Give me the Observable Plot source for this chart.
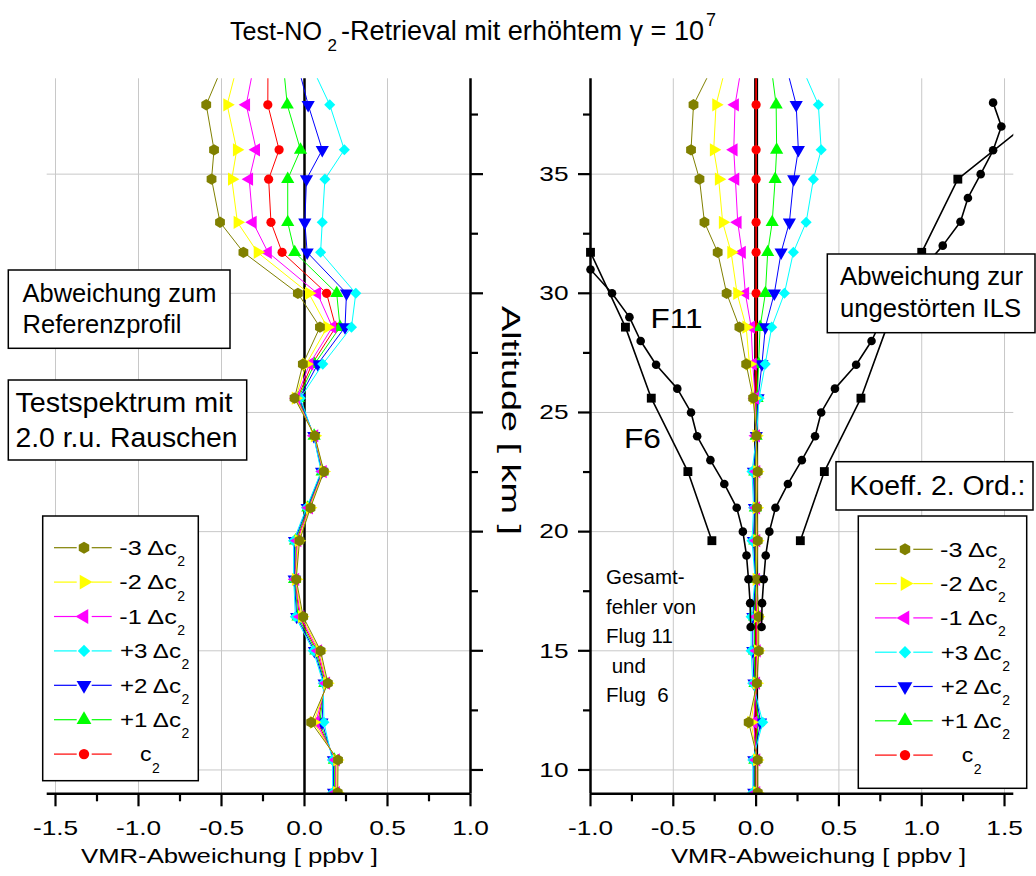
<!DOCTYPE html>
<html>
<head>
<meta charset="utf-8">
<script src="https://cdn.jsdelivr.net/npm/d3@7"></script>
<script src="https://cdn.jsdelivr.net/npm/@observablehq/plot@0.6"></script>
<style>
  html, body { margin: 0; padding: 0; background: #fff; }
  #chart { position: relative; width: 1036px; height: 876px; overflow: hidden; background: #fff; }
  #chart > svg { position: absolute; left: 0; top: 0; }
</style>
</head>
<body>
<div id="chart"></div>
<script>
const FONT = '"Liberation Sans", Arial, Helvetica, sans-serif';

// ---------------- data ----------------
// retrieval altitude grid [km] (bottom -> top; last level lies above the frame)
const altitudes = [9.05, 10.42, 12.0, 13.64, 15.0, 16.43, 18.0, 19.62, 21.0, 22.52, 24.02, 25.6, 27.03, 28.58, 30.0, 31.72, 32.98, 34.79, 36.02, 37.91, 40.0];

// left panel: Abweichung zum Referenzprofil [ppbv]
const leftM3 = [0.200, 0.202, 0.040, 0.141, 0.097, -0.008, -0.050, -0.030, 0.036, 0.117, 0.062, -0.060, -0.010, 0.093, -0.040, -0.368, -0.509, -0.560, -0.545, -0.592, -0.465];
const leftM2 = [0.195, 0.196, 0.055, 0.136, 0.090, -0.016, -0.053, -0.036, 0.032, 0.114, 0.061, -0.054, 0.010, 0.137, 0.026, -0.283, -0.404, -0.438, -0.408, -0.466, -0.389];
const leftM1 = [0.190, 0.190, 0.068, 0.131, 0.083, -0.024, -0.055, -0.042, 0.028, 0.111, 0.060, -0.048, 0.030, 0.168, 0.077, -0.220, -0.311, -0.333, -0.291, -0.351, -0.293];
const leftC2 = [0.185, 0.185, 0.080, 0.127, 0.075, -0.031, -0.057, -0.048, 0.024, 0.108, 0.059, -0.042, 0.045, 0.188, 0.133, -0.135, -0.202, -0.216, -0.153, -0.221, -0.220];
const leftP1 = [0.180, 0.180, 0.092, 0.122, 0.068, -0.039, -0.060, -0.054, 0.020, 0.106, 0.058, -0.037, 0.060, 0.214, 0.194, -0.059, -0.101, -0.101, -0.024, -0.104, -0.133];
const leftP2 = [0.175, 0.174, 0.105, 0.118, 0.060, -0.047, -0.062, -0.060, 0.016, 0.103, 0.056, -0.031, 0.080, 0.244, 0.253, 0.016, 0.002, 0.012, 0.107, 0.022, -0.056];
const leftP3 = [0.170, 0.168, 0.117, 0.113, 0.053, -0.055, -0.065, -0.066, 0.012, 0.100, 0.055, -0.025, 0.110, 0.283, 0.309, 0.097, 0.107, 0.123, 0.240, 0.152, 0.011];

// right panel: Abweichung zur ungestörten ILS [ppbv]
const rightM3 = [0.010, 0.010, -0.045, 0.005, 0.016, 0.016, 0.004, 0.010, 0.005, 0.010, 0.002, -0.018, -0.060, -0.101, -0.178, -0.232, -0.312, -0.342, -0.393, -0.378, -0.227];
const rightM2 = [0.005, 0.005, -0.030, 0.002, 0.010, 0.010, 0.002, 0.005, 0.003, 0.005, 0.001, -0.012, -0.040, -0.060, -0.115, -0.151, -0.202, -0.226, -0.256, -0.242, -0.165];
const rightM1 = [0.002, 0.002, -0.015, 0.001, 0.005, 0.005, 0.001, 0.002, 0.001, 0.002, 0.000, -0.006, -0.020, -0.030, -0.065, -0.085, -0.111, -0.125, -0.135, -0.127, -0.077];
const rightC2 = [0, 0, 0, 0, 0, 0, 0, 0, 0, 0, 0, 0, 0, 0, 0, 0, 0, 0, 0, 0, 0];
const rightP1 = [-0.008, -0.008, 0.013, -0.007, -0.010, -0.010, -0.002, -0.008, -0.005, -0.008, 0.000, 0.006, 0.015, 0.024, 0.056, 0.070, 0.097, 0.115, 0.124, 0.121, 0.082];
const rightP2 = [-0.014, -0.014, 0.027, -0.013, -0.020, -0.020, -0.004, -0.016, -0.010, -0.016, 0.001, 0.012, 0.035, 0.056, 0.110, 0.151, 0.201, 0.227, 0.255, 0.242, 0.164];
const rightP3 = [-0.020, -0.020, 0.040, -0.020, -0.030, -0.030, -0.006, -0.025, -0.015, -0.025, 0.003, 0.018, 0.055, 0.094, 0.171, 0.225, 0.302, 0.346, 0.393, 0.376, 0.244];

// total error (Gesamtfehler) of flight 11 and flight 6 [ppbv], drawn as +/- envelope
const f11Alt = [16, 17, 18, 19, 20, 21, 22, 23, 24, 25, 26, 27, 28, 29, 30, 31, 32, 33, 34, 35, 36, 37, 38];
const f11Err = [0.033, 0.036, 0.046, 0.058, 0.080, 0.117, 0.192, 0.276, 0.356, 0.393, 0.476, 0.604, 0.697, 0.765, 0.870, 1.000, 1.127, 1.234, 1.279, 1.356, 1.431, 1.481, 1.431];
const f6Alt = [19.62, 22.52, 25.6, 28.58, 31.72, 34.79, 37.91];
const f6Err = [0.267, 0.412, 0.633, 0.789, 1.000, 1.218, 1.780];

// labels / ticks
const legendLabels = ["-3 \u0394c", "-2 \u0394c", "-1 \u0394c", "+3 \u0394c", "+2 \u0394c", "+1 \u0394c", "c"];
const leftXTicks = [-1.5, -1.0, -0.5, 0.0, 0.5, 1.0];
const leftXMinor = [-1.25, -0.75, -0.25, 0.25, 0.75];
const leftXGrid = [-1.5, -1.0, -0.5, 0.5];
const rightXTicks = [-1.0, -0.5, 0.0, 0.5, 1.0, 1.5];
const rightXMinor = [-0.75, -0.25, 0.25, 0.75, 1.25];
const rightXGrid = [-0.5, 0.5, 1.0, 1.5];
const yTicks = [10, 15, 20, 25, 30, 35];
const yMinor = [12.5, 17.5, 22.5, 27.5, 32.5, 37.5];
const xDomainLeft = [-1.55, 1.0];
const xDomainRight = [-1.0, 1.556];
const yDomain = [9, 39];

// ---------------- styles ----------------
const seriesColors = ["#808000", "#ffff00", "#ff00ff", "#00ffff", "#0000ff", "#00ff00", "#ff0000"];
const seriesSymbols = ["hexagon", "triangle", "triangle", "diamond2", "triangle", "triangle", "circle"];
const seriesRotate = [0, 90, -90, 0, 180, 0, 0];
const seriesR = [4.9, 4.9, 4.9, 5.0, 4.9, 4.9, 4.6];
const drawOrder = [6, 5, 4, 3, 2, 1, 0];
const GRID = "#c8c8c8";
const TICK_FONT = 21;
const TICK_STRETCH = 1.25;

function seriesRows(series) {
  const rows = [];
  series.forEach((vals, si) => vals.forEach((v, i) => rows.push({s: si, x: v, y: altitudes[i]})));
  return rows;
}

function panel(o) {
  const rows = seriesRows(o.series);
  const marks = [
    Plot.ruleX(o.gridX, {stroke: GRID, strokeWidth: 1}),
    Plot.ruleY(yTicks, {stroke: GRID, strokeWidth: 1}),
    Plot.ruleX([0], {stroke: "#000", strokeWidth: o.zeroWidth})
  ];
  for (const si of drawOrder) {
    const d = rows.filter(r => r.s === si);
    marks.push(Plot.line(d, {x: "x", y: "y", stroke: seriesColors[si], strokeWidth: si === 6 ? o.redWidth : 1, clip: true}));
    marks.push(Plot.dot(d, {x: "x", y: "y", symbol: seriesSymbols[si], rotate: seriesRotate[si], r: seriesR[si], fill: seriesColors[si], stroke: "none", clip: true}));
  }
  if (o.extra) marks.push(...o.extra);
  marks.push(
    Plot.ruleY([yDomain[0]], {stroke: "#000", strokeWidth: 2.5}),
    Plot.ruleX([o.yAnchor === "right" ? o.xDomain[1] : o.xDomain[0]], {stroke: "#000", strokeWidth: 2.5}),
    Plot.axisX({ticks: o.xTicks, tickSize: 13, tickPadding: 13, tickFormat: d => d.toFixed(1), fontSize: TICK_FONT, strokeWidth: 2.2, label: null}),
    Plot.axisX({ticks: o.xMinor, tickSize: 8, tickFormat: () => "", strokeWidth: 2.2, label: null}),
    Plot.axisY({anchor: o.yAnchor, ticks: yTicks, tickSize: 12, tickPadding: 10, tickFormat: o.yAnchor === "left" ? (d => String(d)) : (() => ""), fontSize: TICK_FONT, strokeWidth: 2.2, label: null}),
    Plot.axisY({anchor: o.yAnchor, ticks: yMinor, tickSize: 7, tickFormat: () => "", strokeWidth: 2.2, label: null})
  );
  const svg = Plot.plot({
    width: 1036,
    height: 876,
    marginLeft: o.marginLeft,
    marginRight: o.marginRight,
    marginTop: 78.3,
    marginBottom: 82.7,
    x: {domain: o.xDomain},
    y: {domain: yDomain},
    style: {background: "none", fontFamily: FONT, color: "#000", overflow: "visible"},
    marks
  });
  // stretch tick labels horizontally like the original (keep Plot's own position)
  svg.querySelectorAll('g[aria-label$="tick label"] text').forEach(el => {
    const t = el.getAttribute("transform") || "";
    el.setAttribute("transform", `${t} scale(${TICK_STRETCH},1)`);
  });
  return svg;
}

// error envelopes of the flights
const inRight = d => d.x >= xDomainRight[0] - 1e-9 && d.x <= xDomainRight[1];
const f11Neg = f11Alt.map((a, i) => ({x: -f11Err[i], y: a}));
const f11Pos = f11Alt.map((a, i) => ({x: f11Err[i], y: a}));
const f6Neg = f6Alt.map((a, i) => ({x: -f6Err[i], y: a}));
const f6Pos = f6Alt.map((a, i) => ({x: f6Err[i], y: a}));
const flightMarks = [];
for (const d of [f11Neg, f11Pos]) {
  flightMarks.push(Plot.line(d, {x: "x", y: "y", stroke: "#000", strokeWidth: 1.6, clip: true}));
  flightMarks.push(Plot.dot(d.filter(inRight), {x: "x", y: "y", r: 4.3, fill: "#000", stroke: "none"}));
}
for (const d of [f6Neg, f6Pos]) {
  flightMarks.push(Plot.line(d, {x: "x", y: "y", stroke: "#000", strokeWidth: 1.6, clip: true}));
  flightMarks.push(Plot.dot(d.filter(inRight), {x: "x", y: "y", symbol: "square", r: 5.0, fill: "#000", stroke: "none"}));
}

const chart = document.getElementById("chart");
chart.append(panel({
  series: [leftM3, leftM2, leftM1, leftP3, leftP2, leftP1, leftC2],
  xDomain: xDomainLeft, xTicks: leftXTicks, xMinor: leftXMinor, gridX: leftXGrid,
  marginLeft: 46.7, marginRight: 1036 - 470, yAnchor: "right", zeroWidth: 2.5, redWidth: 1
}));
chart.append(panel({
  series: [rightM3, rightM2, rightM1, rightP3, rightP2, rightP1, rightC2],
  xDomain: xDomainRight, xTicks: rightXTicks, xMinor: rightXMinor, gridX: rightXGrid,
  marginLeft: 590, marginRight: 1036 - 1013.3, yAnchor: "left", zeroWidth: 4, redWidth: 1.6,
  extra: flightMarks
}));

// ---------------- overlay: titles, boxes, legends ----------------
const ov = d3.create("svg").attr("width", 1036).attr("height", 876)
  .attr("font-family", FONT).attr("fill", "#000");

function T(x, y, s, size, opt = {}) {
  const t = ov.append("text").attr("x", x).attr("y", y).attr("font-size", size).text(s);
  if (opt.len) t.attr("textLength", opt.len).attr("lengthAdjust", "spacingAndGlyphs");
  if (opt.transform) t.attr("transform", opt.transform);
  if (opt.pre) t.style("white-space", "pre");
  return t;
}
function box(x, y, w, h) {
  ov.append("rect").attr("x", x).attr("y", y).attr("width", w).attr("height", h)
    .attr("fill", "#fff").attr("stroke", "#000").attr("stroke-width", 1.5);
}

// title (one text element, sub- and superscript as tspans)
const title = ov.append("text").attr("font-size", 27);
title.append("tspan").attr("x", 230).attr("y", 39.5).attr("font-size", 25).attr("textLength", 92).attr("lengthAdjust", "spacingAndGlyphs").text("Test-NO");
title.append("tspan").attr("x", 327.5).attr("y", 51).attr("font-size", 17).text("2");
title.append("tspan").attr("x", 341).attr("y", 39.5).attr("textLength", 363).attr("lengthAdjust", "spacingAndGlyphs").text("-Retrieval mit erh\u00f6htem \u03b3 = 10");
title.append("tspan").attr("x", 706).attr("y", 26).attr("font-size", 18).text("7");

// axis titles
T(81, 863, "VMR-Abweichung [ ppbv ]", 21, {len: 297});
T(671, 863, "VMR-Abweichung [ ppbv ]", 21, {len: 295});
T(0, 0, "Altitude [ km ]", 26, {len: 229, transform: "translate(502,306) rotate(90)"});

// annotation boxes
box(8.3, 270, 221.7, 78.3);
T(22.5, 301.7, "Abweichung zum", 25, {len: 194});
T(22.5, 333.3, "Referenzprofil", 25, {len: 159});
box(8.3, 380, 238.4, 80);
T(15.5, 412.3, "Testspektrum mit", 28, {len: 217});
T(15.5, 446.7, "2.0 r.u. Rauschen", 28, {len: 222});
box(827.3, 254, 207.7, 78.7);
T(840, 285, "Abweichung zur", 25, {len: 183});
T(840, 317.3, "ungest\u00f6rten ILS", 25, {len: 181});
box(836, 461.7, 197, 48.3);
T(849.5, 495, "Koeff. 2. Ord.:", 27, {len: 176});
T(650.5, 328, "F11", 28, {len: 52});
T(624, 448.3, "F6", 28, {len: 37});
const gesamt = ["Gesamt-", "fehler von", "Flug 11", " und", "Flug  6"];
gesamt.forEach((s, i) => T(606, 584 + i * 29.5, s, 20.5, {pre: true}));

// legends
function marker(g, si, cx, cy) {
  const r = seriesR[si] + 0.6;
  const size = Math.PI * r * r;
  let p;
  if (seriesSymbols[si] === "hexagon") {
    const R = r * 1.1;
    const pts = d3.range(6).map(k => { const a = (k * 60 - 90) * Math.PI / 180; return [R * Math.cos(a), R * Math.sin(a)]; });
    p = "M" + pts.map(q => q.join(",")).join("L") + "Z";
  } else {
    const type = {triangle: d3.symbolTriangle, diamond2: d3.symbolDiamond2, circle: d3.symbolCircle}[seriesSymbols[si]];
    p = d3.symbol(type, size)();
  }
  g.append("path").attr("d", p).attr("fill", seriesColors[si])
    .attr("transform", `translate(${cx},${cy}) rotate(${seriesRotate[si]})`);
}
function legend(bx, by, bw, bh, y0, dy, l1, l2, l3, l4, mx, tx, cx) {
  box(bx, by, bw, bh);
  const g = ov.append("g");
  legendLabels.forEach((lab, si) => {
    const y = y0 + si * dy;
    g.append("line").attr("x1", l1).attr("x2", l2).attr("y1", y).attr("y2", y).attr("stroke", seriesColors[si]).attr("stroke-width", 1.2);
    g.append("line").attr("x1", l3).attr("x2", l4).attr("y1", y).attr("y2", y).attr("stroke", seriesColors[si]).attr("stroke-width", 1.2);
    marker(g, si, mx, y);
    if (lab === "c") {
      T(cx, y + 7.3, "c", 20, {len: 11.5});
      T(cx + 12, y + 18.5, "2", 14);
    } else {
      const plus = lab[0] === "+";
      const len = plus ? 61 : 57.5;
      const x0 = plus ? tx + 0.7 : tx;
      T(x0, y + 7.3, lab, 20, {len});
      T(x0 + len + 0.5, y + 18.5, "2", 14);
    }
  });
}
legend(42.7, 516, 155.6, 264.7, 547.7, 34.4, 54, 76.7, 91.7, 111.7, 84, 119.3, 140);
legend(858.3, 516, 168.4, 272.3, 549.3, 34.3, 875, 896.7, 913.3, 932.7, 905, 940, 961.7);

chart.append(ov.node());
</script>
</body>
</html>
